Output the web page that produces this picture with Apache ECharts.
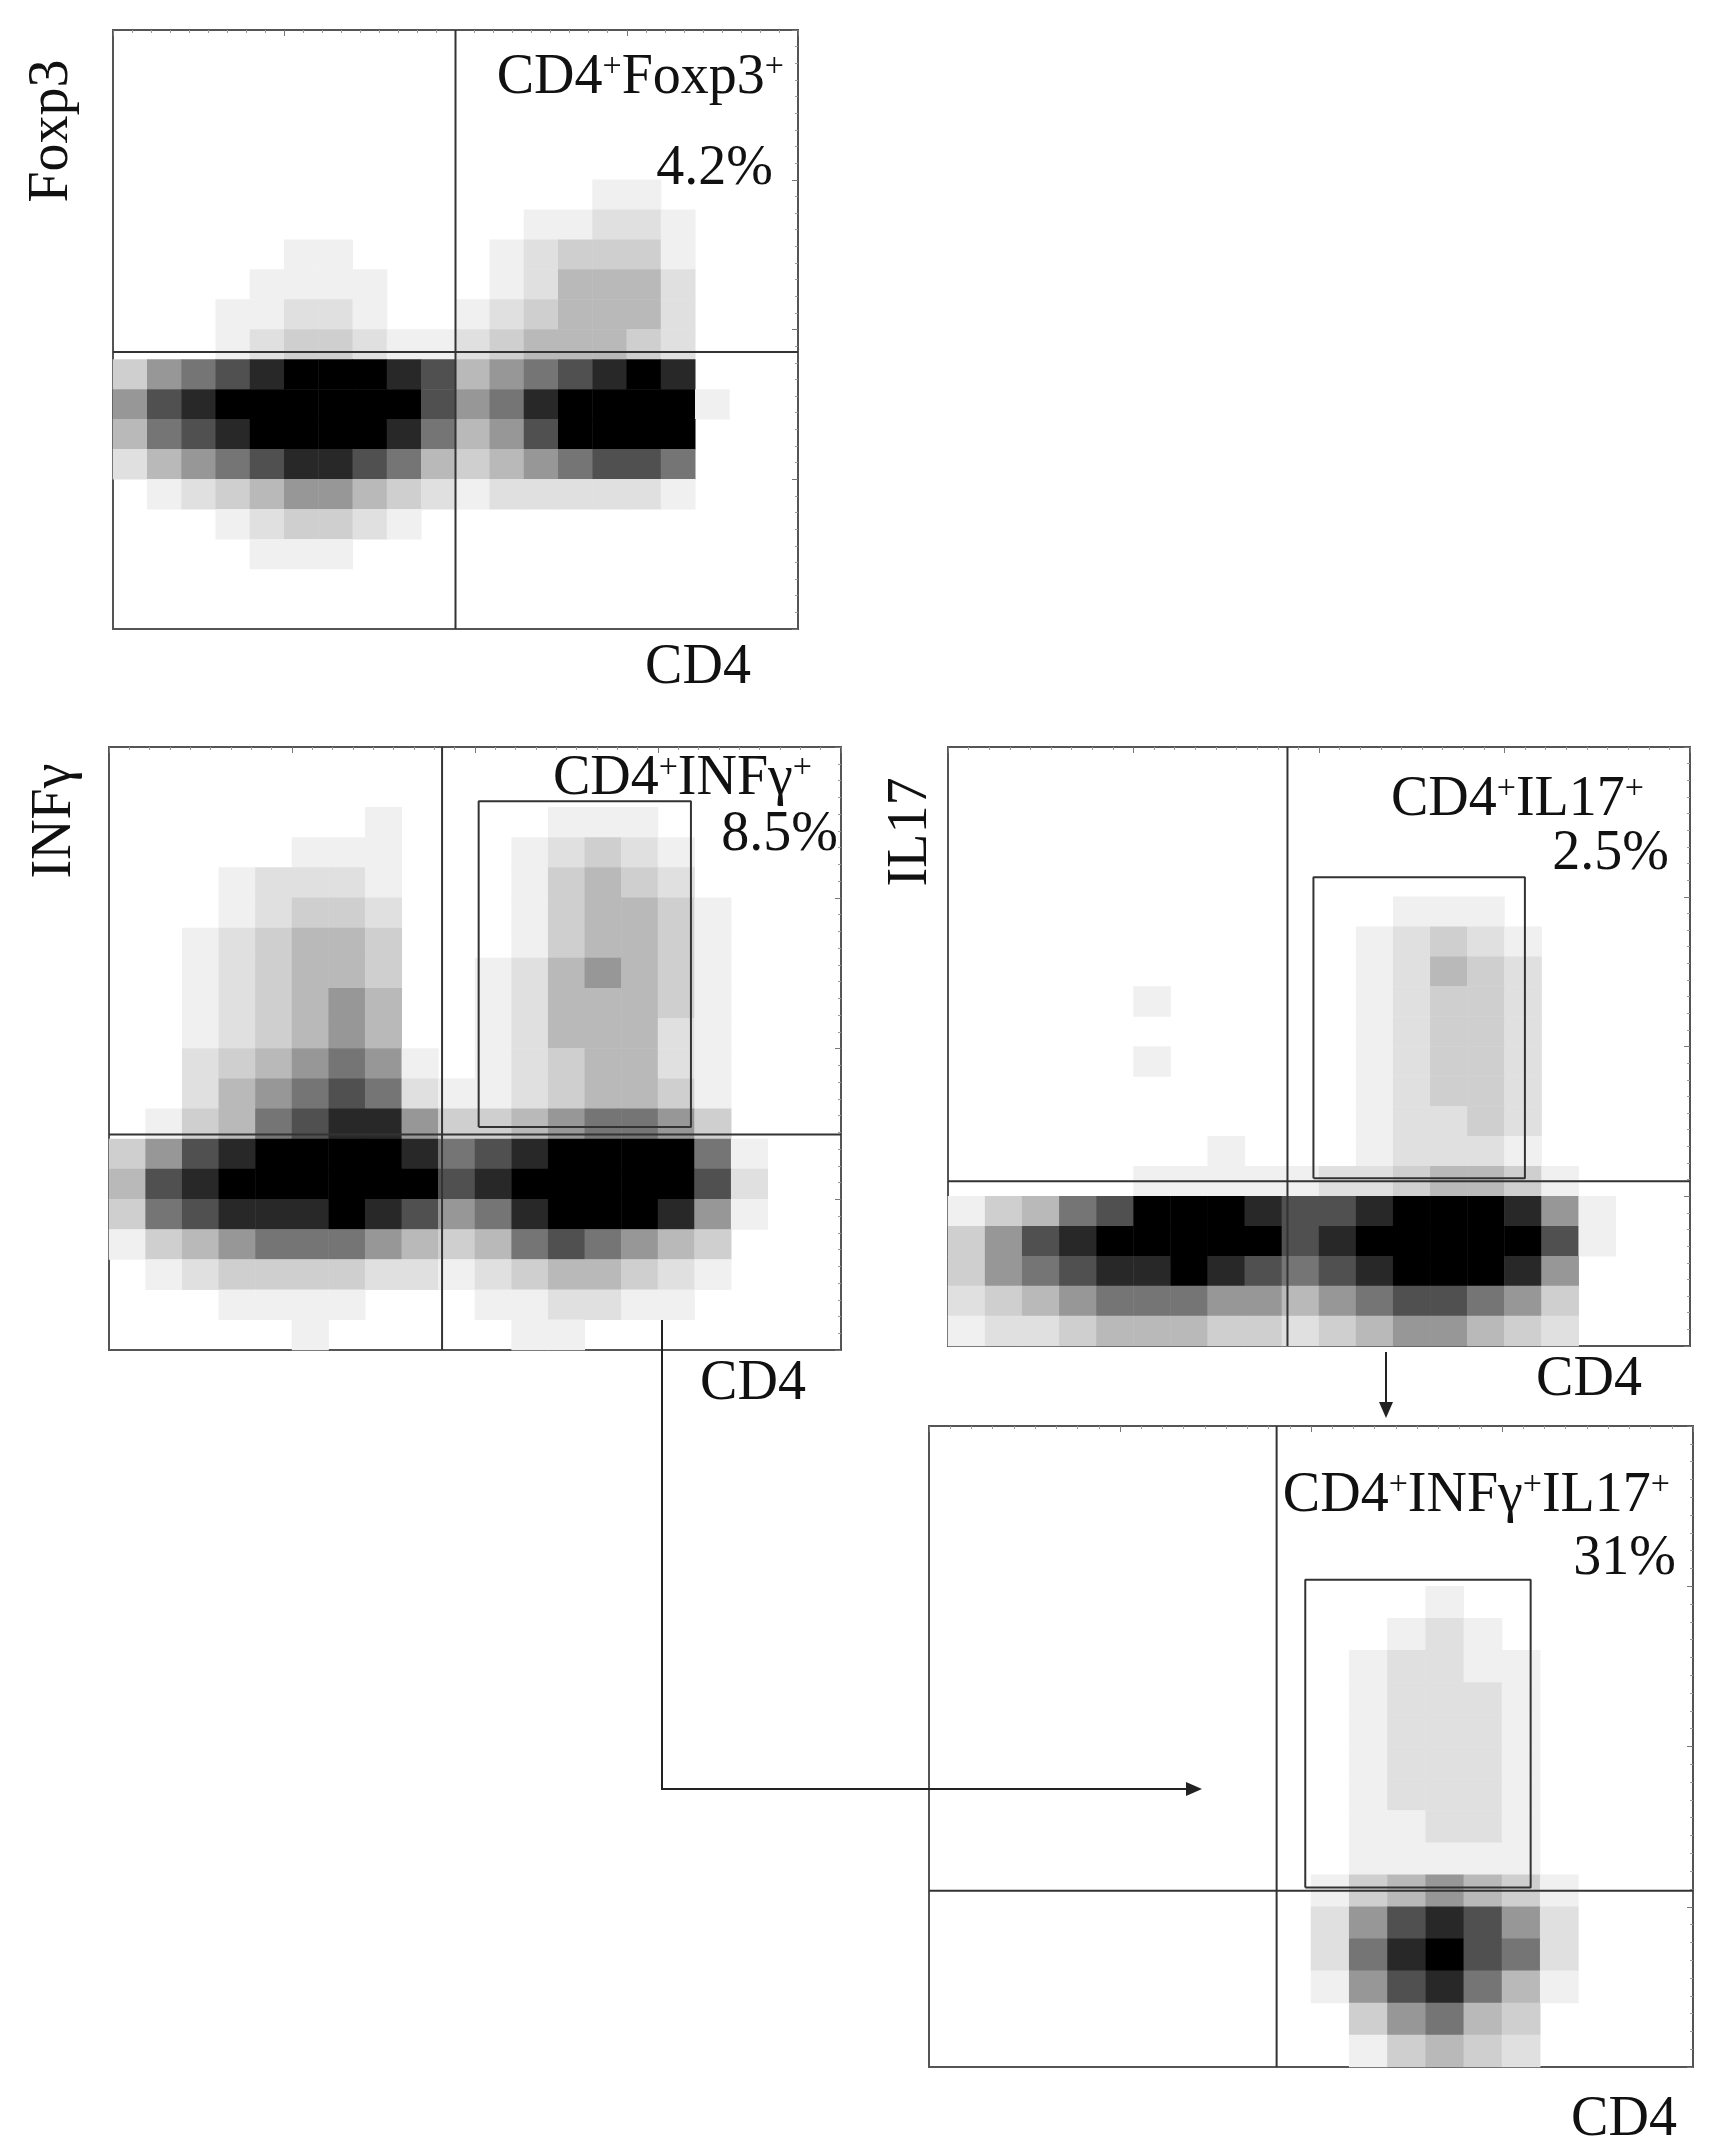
<!DOCTYPE html>
<html>
<head>
<meta charset="utf-8">
<script src="https://cdn.jsdelivr.net/npm/echarts@6/dist/echarts.min.js"></script>
<style>
  html, body { margin: 0; padding: 0; background: #fff; }
  #chart { width: 1720px; height: 2150px; }
</style>
</head>
<body>
<div id="chart"></div>
<script>
// Event density (0 = empty, 9 = saturated) on a 20 x 20 grid, rows top -> bottom,
// each cell 0.2 decade of fluorescence (axes run 0..4 decades)
const densityFoxp3 = [
    '00000000000000000000',
    '00000000000000000000',
    '00000000000000000000',
    '00000000000000000000',
    '00000000000000000000',
    '00000000000000110000',
    '00000000000011221000',
    '00000110000123331000',
    '00001111000124442000',
    '00011221001234442000',
    '00012332112344432000',
    '35678999874567898000',
    '57899999975689999100',
    '46789999864579999000',
    '24567887643456776000',
    '01234554321222221000',
    '00012332100000000000',
    '00001110000000000000',
    '00000000000000000000',
    '00000000000000000000'
];
const densityInfg = [
    '00000000000000000000',
    '00000000000000000000',
    '00000001000011100000',
    '00000111000123210000',
    '00012221000134320000',
    '00012332000134431000',
    '00123443000134431000',
    '00123443001245431000',
    '00123454001244431000',
    '00123454001244421000',
    '00234565101234421000',
    '00245676211234431000',
    '01346788533456653000',
    '35789999867899996100',
    '47899999978999997200',
    '36788898756899985100',
    '13456665434676543000',
    '01233332212344321000',
    '00011110001122110000',
    '00000100000110000000'
];
const densityIl17 = [
    '00000000000000000000',
    '00000000000000000000',
    '00000000000000000000',
    '00000000000000000000',
    '00000000000000000000',
    '00000000000011100000',
    '00000000000123210000',
    '00000000000124320000',
    '00000100000123320000',
    '00000000000123320000',
    '00000100000123320000',
    '00000000000123320000',
    '00000000000122320000',
    '00000001000122210000',
    '00000111112234431000',
    '13467999877899985100',
    '35789999978999997100',
    '35678898767899985000',
    '23456665545677653000',
    '12234443323455432000'
];
const densityDouble = [
    '00000000000000000000',
    '00000000000000000000',
    '00000000000000000000',
    '00000000000000000000',
    '00000000000000000000',
    '00000000000001000000',
    '00000000000012100000',
    '00000000000122110000',
    '00000000000122210000',
    '00000000000122210000',
    '00000000000122210000',
    '00000000000122210000',
    '00000000000112210000',
    '00000000000111110000',
    '00000000001345431000',
    '00000000002578752000',
    '00000000002689762000',
    '00000000001578641000',
    '00000000000356430000',
    '00000000000134320000'
];

// Quadrant thresholds [x, y] in decades
const quadFoxp3 = [2.0, 1.85];
const quadInfg = [1.82, 1.43];
const quadIl17 = [1.83, 1.10];
const quadDouble = [1.82, 1.10];

// Gates [xMin, xMax, yMin, yMax] in decades
const gateInfg = [2.02, 3.18, 1.48, 3.64];
const gateIl17 = [1.97, 3.11, 1.12, 3.13];
const gateDouble = [1.97, 3.15, 1.12, 3.04];

const CELLS = 20;
const FONT = 'Liberation Serif, DejaVu Serif, serif';

// Panel layout in px
const panels = [
    {box: [113, 30, 685, 599], density: densityFoxp3, quad: quadFoxp3, gate: null},
    {box: [109, 747, 732, 603], density: densityInfg, quad: quadInfg, gate: gateInfg},
    {box: [948, 747, 742, 599], density: densityIl17, quad: quadIl17, gate: gateIl17},
    {box: [929, 1426, 764, 641], density: densityDouble, quad: quadDouble, gate: gateDouble}
];

const cellNames = Array.from({length: CELLS}, (_, i) => String(i));

// Turns the density rows into heatmap cells
const toCells = (rows) => {
    const out = [];
    rows.forEach((row, r) => {
        for (let c = 0; c < row.length; c++) {
            const v = Number(row[c]);
            if (v > 0) {
                out.push([c, CELLS - 1 - r, v]);
            }
        }
    });
    return out;
};

const grid = [];
const xAxis = [];
const yAxis = [];
const series = [];
const heatIndexes = [];

const valueAxis = (i) => ({
    type: 'value', gridIndex: i, min: 0, max: 4, interval: 1,
    axisLine: {show: false}, axisLabel: {show: false}, splitLine: {show: false},
    axisTick: {show: true, inside: true, length: 6, lineStyle: {color: '#777'}},
    minorTick: {show: true, splitNumber: 9, length: 3, lineStyle: {color: '#999'}}
});

panels.forEach((p, i) => {
    const [left, top, width, height] = p.box;
    grid.push({left, top, width, height, show: true, borderColor: '#555', borderWidth: 2, backgroundColor: '#fff'});
    // category axes for the density cells
    xAxis.push({type: 'category', gridIndex: i, data: cellNames, show: false});
    yAxis.push({type: 'category', gridIndex: i, data: cellNames, show: false});
    // value axes (decades) for ticks, quadrant lines and gates
    xAxis.push(valueAxis(i));
    yAxis.push(valueAxis(i));
    const catX = 2 * i, valX = 2 * i + 1;
    heatIndexes.push(series.length);
    series.push({
        type: 'heatmap', xAxisIndex: catX, yAxisIndex: catX,
        data: toCells(p.density), silent: true
    });
    const lineStyle = {color: '#333', width: 2};
    const [qx, qy] = p.quad;
    series.push({type: 'line', xAxisIndex: valX, yAxisIndex: valX, symbol: 'none', lineStyle,
        data: [[qx, 0], [qx, 4]], silent: true, z: 5});
    series.push({type: 'line', xAxisIndex: valX, yAxisIndex: valX, symbol: 'none', lineStyle,
        data: [[0, qy], [4, qy]], silent: true, z: 5});
    if (p.gate) {
        const [x0, x1, y0, y1] = p.gate;
        series.push({type: 'line', xAxisIndex: valX, yAxisIndex: valX, symbol: 'none', lineStyle,
            data: [[x0, y0], [x0, y1], [x1, y1], [x1, y0], [x0, y0]], silent: true, z: 5});
    }
});

// Gate labels with superscripts
const sup = {fontSize: 34, fontFamily: FONT, color: '#111', verticalAlign: 'top', lineHeight: 56};
const big = {fontSize: 56, fontFamily: FONT, color: '#111', lineHeight: 56};
const label = (x, y, text) => ({
    type: 'text', x, y,
    style: {text, align: 'right', verticalAlign: 'middle', rich: {s: sup, n: big}, fill: '#111', font: '56px ' + FONT}
});
const title = (x, y, text, vertical) => ({
    type: 'text', x, y, rotation: vertical ? Math.PI / 2 : 0,
    style: {text, align: 'center', verticalAlign: 'middle', fill: '#111', font: '56px ' + FONT}
});
const arrowHead = (tipX, tipY, dir) => {
    const pts = dir === 'down'
        ? [[tipX, tipY], [tipX - 7, tipY - 16], [tipX + 7, tipY - 16]]
        : [[tipX, tipY], [tipX - 16, tipY - 7], [tipX - 16, tipY + 7]];
    return {type: 'polygon', shape: {points: pts}, style: {fill: '#222'}};
};

const graphic = [
    label(784, 78, '{n|CD4}{s|+}{n|Foxp3}{s|+}'),
    label(773, 169, '{n|4.2%}'),
    label(812, 779, '{n|CD4}{s|+}{n|INFγ}{s|+}'),
    label(838, 835, '{n|8.5%}'),
    label(1644, 800, '{n|CD4}{s|+}{n|IL17}{s|+}'),
    label(1669, 854, '{n|2.5%}'),
    label(1670, 1496, '{n|CD4}{s|+}{n|INFγ}{s|+}{n|IL17}{s|+}'),
    label(1676, 1559, '{n|31%}'),
    title(52, 131, 'Foxp3', true),
    title(698, 668, 'CD4'),
    title(55, 821, 'INFγ', true),
    title(753, 1384, 'CD4'),
    title(911, 832, 'IL17', true),
    title(1589, 1380, 'CD4'),
    title(1624, 2120, 'CD4'),
    {type: 'polyline', shape: {points: [[1386, 1352], [1386, 1402]]}, style: {stroke: '#222', lineWidth: 2}},
    arrowHead(1386, 1418, 'down'),
    {type: 'polyline', shape: {points: [[662, 1135], [662, 1789], [1186, 1789]]}, style: {stroke: '#222', lineWidth: 2}},
    arrowHead(1202, 1789, 'right')
];

const chart = echarts.init(document.getElementById('chart'));
chart.setOption({
    animation: false,
    backgroundColor: '#fff',
    grid, xAxis, yAxis, series, graphic,
    visualMap: {
        show: false, type: 'continuous', min: 1, max: 9, dimension: 2,
        seriesIndex: heatIndexes,
        inRange: {color: ['#f0f0f0', '#c4c4c4', '#6a6a6a', '#000000']}
    }
});
</script>
</body>
</html>
